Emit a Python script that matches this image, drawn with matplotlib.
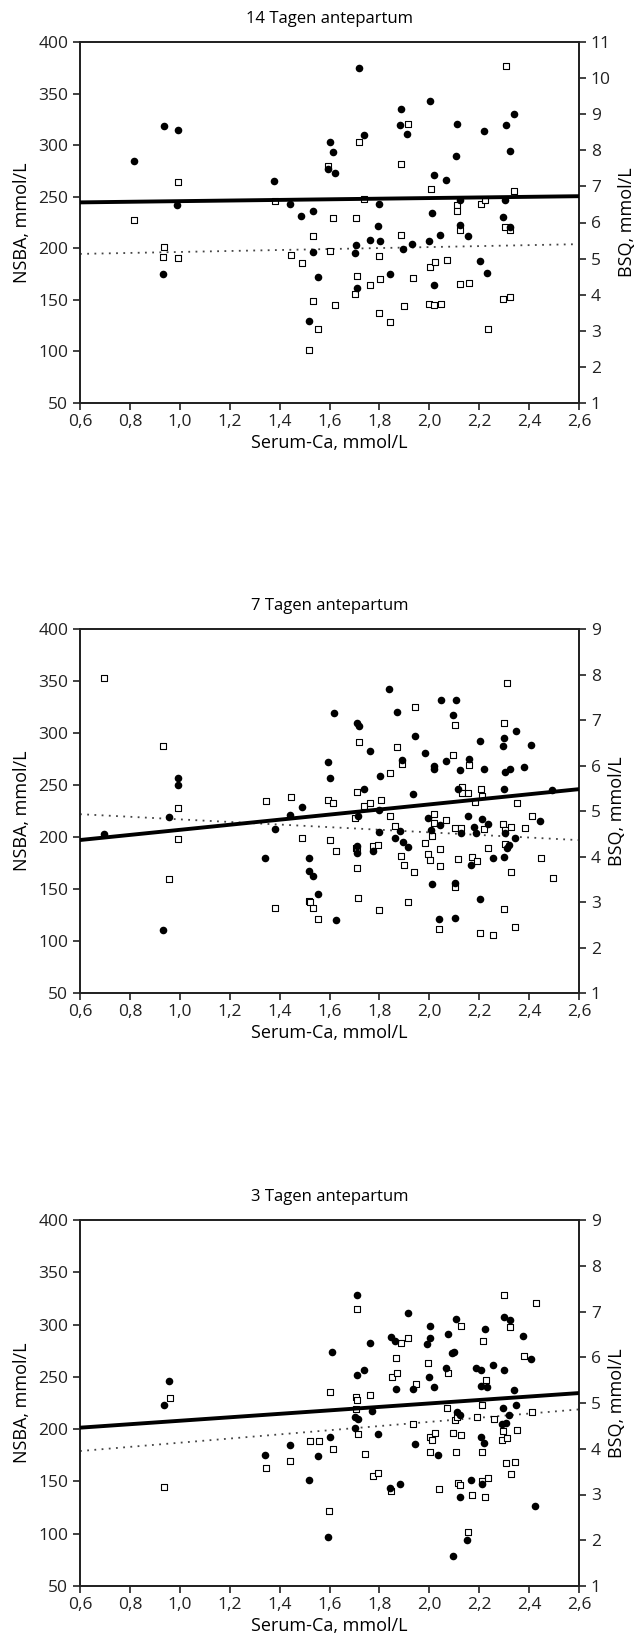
import matplotlib
matplotlib.use("Agg")
import matplotlib.pyplot as plt
from matplotlib.ticker import FixedLocator, FuncFormatter

plt.rcParams['font.family'] = ['Open Sans', 'DejaVu Sans']

# ---------------- Data ----------------
titles = ["14 Tagen antepartum", "7 Tagen antepartum", "3 Tagen antepartum"]
xlabel = "Serum-Ca, mmol/L"
ylabel_left = "NSBA, mmol/L"
ylabel_right = "BSQ, mmol/L"
x_ticks = [0.6, 0.8, 1.0, 1.2, 1.4, 1.6, 1.8, 2.0, 2.2, 2.4, 2.6]
left_ticks = [50, 100, 150, 200, 250, 300, 350, 400]
right_ticks_p14 = [1, 2, 3, 4, 5, 6, 7, 8, 9, 10, 11]
right_ticks_p7 = [1, 2, 3, 4, 5, 6, 7, 8, 9]
right_ticks_p3 = [1, 2, 3, 4, 5, 6, 7, 8, 9]

# Panel 1: 14 Tage
p14_ca_nsba = [0.817, 0.937, 0.992, 0.99, 0.933, 1.377, 1.443, 1.487, 1.532, 1.532, 1.553, 1.517,
               1.603, 1.613, 1.595, 1.623, 1.717, 1.738, 1.708, 1.702, 1.711, 1.762, 1.797, 1.793,
               1.802, 1.843, 1.888, 1.883, 1.912, 1.896, 1.932, 2.001, 2.017, 2.009, 1.998, 2.017,
               2.042, 2.068, 2.111, 2.108, 2.123, 2.123, 2.157, 2.221, 2.205, 2.233, 2.307, 2.339,
               2.323, 2.302, 2.296, 2.323]
p14_nsba = [285, 319, 315, 241.5, 175.4, 265, 243, 231.5, 236.4, 196, 172.5, 129.5,
            302.8, 293, 276.5, 272.7, 374.7, 309.6, 203, 195.2, 161.9, 207.9, 242.9, 221.8,
            206.9, 175.4, 334.9, 319.6, 311.2, 199.2, 204.6, 343, 270.7, 234, 206.9, 164.4,
            212.7, 266.2, 320.6, 289.8, 247, 222.8, 212, 314, 187.2, 175.8, 319.6, 330,
            294.7, 246.8, 230, 220.8]
p14_ca_bsq = [0.818, 0.938, 0.933, 0.993, 0.993, 1.38, 1.445, 1.488, 1.532, 1.532, 1.553, 1.519,
              1.594, 1.613, 1.603, 1.623, 1.718, 1.738, 1.708, 1.711, 1.702, 1.763, 1.797, 1.802,
              1.799, 1.844, 1.914, 1.888, 1.885, 1.933, 1.899, 2.008, 2.003, 2.021, 2.069, 2.0,
              2.019, 2.045, 2.11, 2.113, 2.124, 2.124, 2.16, 2.207, 2.225, 2.236, 2.309, 2.339,
              2.304, 2.325, 2.297, 2.325]
p14_bsq = [6.07, 5.33, 5.04, 7.12, 5.03, 6.59, 5.09, 4.89, 5.63, 3.82, 3.06, 2.48,
           7.56, 6.13, 5.22, 3.71, 8.22, 6.65, 6.13, 4.52, 4.03, 4.28, 5.06, 4.44,
           3.48, 3.24, 8.74, 7.61, 5.66, 4.46, 3.68, 6.92, 4.76, 4.90, 4.96, 3.74,
           3.71, 3.74, 6.49, 6.31, 5.79, 4.30, 4.32, 6.51, 6.63, 3.05, 10.33, 6.87,
           5.87, 5.79, 3.87, 3.93]
p14_trend_x = [0.6, 2.6]
p14_trend_nsba = [244.5, 250.5]
p14_trend_bsq = [5.13, 5.40]

# Panel 2: 7 Tage
p7_ca_nsba = [0.696, 0.931, 0.956, 0.992, 0.992, 1.343, 1.38, 1.442, 1.488, 1.517, 1.519, 1.532,
              1.553, 1.625, 1.617, 1.594, 1.602, 1.709, 1.718, 1.738, 1.715, 1.71, 1.71, 1.764,
              1.774, 1.803, 1.797, 1.8, 1.839, 1.869, 1.89, 1.883, 1.862, 1.896, 1.914, 1.944,
              1.935, 1.984, 1.993, 2.006, 2.017, 2.019, 2.043, 2.009, 2.038, 2.045, 2.068, 2.107,
              2.096, 2.114, 2.125, 2.127, 2.105, 2.102, 2.158, 2.154, 2.169, 2.18, 2.189, 2.205,
              2.221, 2.211, 2.234, 2.205, 2.256, 2.301, 2.295, 2.349, 2.409, 2.38, 2.322, 2.303,
              2.3, 2.305, 2.342, 2.319, 2.311, 2.3, 2.445, 2.491]
p7_nsba = [202.5, 110.8, 219.4, 257.1, 250.4, 179.5, 207.3, 221, 229, 179.5, 167.6, 162.9,
           145.6, 120.3, 319.5, 272.2, 257.1, 309.6, 306.4, 246, 220.1, 191.6, 184.3, 282.4,
           186.2, 258.7, 225.8, 205, 342.5, 319.8, 274.4, 205.7, 199, 194.8, 190.3, 297.1,
           241.2, 280.5, 218.5, 206.6, 268, 265.8, 211.4, 154.5, 121, 331.6, 272.8, 331.6,
           316.9, 246.6, 264.2, 204.1, 155.8, 122.3, 275, 220.1, 173.1, 209.2, 204.1, 292.6,
           265.1, 216.9, 212.1, 140.5, 179.5, 295.2, 287.2, 301.9, 288.8, 267.7, 265.1, 262.6,
           246.6, 203.4, 198.7, 192.3, 189.1, 181.1, 215.3, 245]
p7_ca_bsq = [0.696, 0.933, 0.958, 0.992, 0.992, 1.345, 1.38, 1.444, 1.488, 1.519, 1.521, 1.534,
             1.555, 1.594, 1.614, 1.604, 1.625, 1.709, 1.704, 1.705, 1.709, 1.709, 1.715, 1.718,
             1.74, 1.764, 1.805, 1.774, 1.795, 1.798, 1.841, 1.844, 1.87, 1.89, 1.864, 1.885,
             1.9, 1.914, 1.937, 1.944, 1.984, 1.996, 2.004, 2.011, 2.019, 2.02, 2.068, 2.043,
             2.042, 2.04, 2.096, 2.105, 2.102, 2.128, 2.117, 2.104, 2.13, 2.13, 2.156, 2.161,
             2.184, 2.21, 2.207, 2.221, 2.236, 2.171, 2.192, 2.205, 2.256, 2.301, 2.311, 2.296,
             2.303, 2.327, 2.305, 2.326, 2.301, 2.342, 2.35, 2.383, 2.412, 2.446, 2.494]
p7_bsq = [7.93, 6.43, 3.51, 5.06, 4.38, 5.23, 2.86, 5.30, 4.41, 3.02, 2.99, 2.86,
          2.62, 5.24, 5.17, 4.36, 4.11, 5.41, 4.84, 4.18, 4.14, 3.74, 3.09, 6.52,
          5.11, 5.18, 5.25, 4.22, 4.25, 2.83, 5.84, 4.89, 6.41, 6.03, 4.67, 4.01,
          3.81, 3.01, 3.65, 7.28, 4.30, 4.05, 3.92, 4.46, 4.93, 4.73, 4.81, 4.17,
          3.79, 2.41, 6.24, 6.90, 4.62, 4.62, 3.95, 3.32, 5.53, 5.40, 5.40, 6.02,
          5.19, 5.34, 5.48, 4.60, 4.19, 4.00, 3.90, 2.32, 2.28, 6.94, 7.82, 4.71,
          4.58, 4.65, 4.28, 3.66, 2.84, 2.45, 5.17, 4.63, 4.89, 3.96, 3.53]
p7_trend_x = [0.6, 2.6]
p7_trend_nsba = [197.1, 246.0]
p7_trend_bsq = [4.93, 4.36]

# Panel 3: 3 Tage
p3_ca_nsba = [0.936, 0.957, 1.342, 1.443, 1.518, 1.552, 1.593, 1.602, 1.612, 1.71, 1.71, 1.703,
              1.713, 1.703, 1.737, 1.762, 1.771, 1.794, 1.848, 1.861, 1.867, 1.843, 1.884, 1.913,
              1.934, 1.942, 2.002, 2.002, 1.992, 1.997, 2.017, 2.036, 2.074, 2.067, 2.101, 2.091,
              2.109, 2.111, 2.122, 2.122, 2.096, 2.166, 2.152, 2.189, 2.207, 2.207, 2.233, 2.223,
              2.254, 2.207, 2.22, 2.212, 2.299, 2.322, 2.301, 2.294, 2.319, 2.307, 2.29, 2.338,
              2.348, 2.377, 2.408, 2.425]
p3_nsba = [222.8, 246, 175, 185.2, 151.2, 174.1, 96.8, 192.5, 273.7, 328.7, 251.4, 211.6,
           210, 201.1, 256.8, 282.6, 217.4, 195.1, 288, 283.9, 238.7, 143.8, 147.4, 311.2,
           238.7, 186.2, 298.5, 287, 281.6, 250.1, 240.1, 175, 291.2, 258.4, 274, 272.7,
           304.9, 216.4, 213.2, 135, 78.6, 151.2, 93.9, 258.4, 256.5, 240.9, 240, 295.3,
           260.9, 192.9, 187.2, 147.1, 307.1, 304.5, 256.5, 220.2, 213.9, 206.2, 204.6, 237.1,
           222.8, 289.3, 267.3, 126.7]
p3_ca_bsq = [0.959, 0.938, 1.344, 1.443, 1.521, 1.557, 1.604, 1.614, 1.596, 1.71, 1.706, 1.71,
             1.706, 1.715, 1.741, 1.763, 1.775, 1.796, 1.849, 1.87, 1.866, 1.885, 1.914, 1.846,
             1.947, 1.934, 1.996, 2.072, 2.075, 2.004, 2.009, 2.022, 2.004, 2.039, 2.096, 2.103,
             2.113, 2.126, 2.106, 2.126, 2.116, 2.124, 2.171, 2.155, 2.21, 2.236, 2.222, 2.215,
             2.226, 2.212, 2.192, 2.259, 2.212, 2.301, 2.325, 2.295, 2.291, 2.311, 2.307, 2.327,
             2.343, 2.351, 2.381, 2.412, 2.428]
p3_bsq = [5.11, 3.17, 3.57, 3.74, 4.18, 4.18, 5.23, 3.99, 2.64, 7.06, 5.13, 5.07,
          4.86, 4.32, 3.89, 5.17, 3.40, 3.47, 5.57, 5.65, 5.98, 6.31, 6.42, 3.07,
          5.41, 4.54, 5.87, 4.88, 5.65, 4.26, 4.19, 4.34, 3.93, 3.11, 4.35, 4.63,
          4.69, 4.29, 3.93, 6.68, 3.25, 3.20, 3.00, 2.19, 3.29, 3.36, 2.95, 6.35,
          5.50, 4.96, 4.69, 4.64, 3.93, 7.35, 6.67, 4.38, 4.20, 4.24, 3.68, 3.44,
          3.71, 4.40, 6.02, 4.80, 7.18]
p3_trend_x = [0.6, 2.6]
p3_trend_nsba = [201.4, 234.5]
p3_trend_bsq = [3.95, 4.86]

panels = [
    dict(title=titles[0], ca_n=p14_ca_nsba, n=p14_nsba, ca_b=p14_ca_bsq, b=p14_bsq,
         tx=p14_trend_x, tn=p14_trend_nsba, tb=p14_trend_bsq, rticks=right_ticks_p14),
    dict(title=titles[1], ca_n=p7_ca_nsba, n=p7_nsba, ca_b=p7_ca_bsq, b=p7_bsq,
         tx=p7_trend_x, tn=p7_trend_nsba, tb=p7_trend_bsq, rticks=right_ticks_p7),
    dict(title=titles[2], ca_n=p3_ca_nsba, n=p3_nsba, ca_b=p3_ca_bsq, b=p3_bsq,
         tx=p3_trend_x, tn=p3_trend_nsba, tb=p3_trend_bsq, rticks=right_ticks_p3),
]

# ---------------- Figure ----------------
W, H = 635, 1646
fig = plt.figure(figsize=(W / 100, H / 100), dpi=100)
fig.patch.set_facecolor('white')

boxes = [(42, 403), (629, 993), (1220, 1586)]  # top, bottom in pixels
left_px, right_px = 80, 579

comma = FuncFormatter(lambda v, p: f"{v:.1f}".replace('.', ','))
FS_TICK = 12.5
FS_LAB = 13
FS_TITLE = 12

for pnl, (top, bot) in zip(panels, boxes):
    ax = fig.add_axes([left_px / W, 1 - bot / H, (right_px - left_px) / W, (bot - top) / H])
    ax2 = ax.twinx()
    ax.set_zorder(ax2.get_zorder() + 1)
    ax.patch.set_visible(False)

    ax.set_xlim(0.6, 2.6)
    ax.set_ylim(50, 400)
    ax2.set_ylim(pnl['rticks'][0], pnl['rticks'][-1])

    ax.xaxis.set_major_locator(FixedLocator(x_ticks))
    ax.xaxis.set_major_formatter(comma)
    ax.yaxis.set_major_locator(FixedLocator(left_ticks))
    ax2.yaxis.set_major_locator(FixedLocator(pnl['rticks']))

    # BSQ (open squares, right axis)
    ax2.scatter(pnl['ca_b'], pnl['b'], marker='s', s=24, facecolors='white',
                edgecolors='black', linewidths=0.8, zorder=3)
    ax2.plot(pnl['tx'], pnl['tb'], color='#444444', lw=1.3, ls=(0, (1, 3)), zorder=2)
    # NSBA (filled circles, left axis)
    ax.scatter(pnl['ca_n'], pnl['n'], marker='o', s=30, color='black', zorder=3, linewidths=0)
    ax.plot(pnl['tx'], pnl['tn'], color='black', lw=2.8, zorder=4, solid_capstyle='butt')

    for a in (ax, ax2):
        for sp in a.spines.values():
            sp.set_linewidth(1.3)
            sp.set_color('#222222')
        a.tick_params(direction='out', length=5, width=1.2, labelsize=FS_TICK, colors='#222222')
    ax.tick_params(axis='x', pad=3)

    ax.set_title(pnl['title'], fontsize=FS_TITLE, pad=14)
    ax.set_xlabel(xlabel, fontsize=FS_LAB, labelpad=3)
    ax.set_ylabel(ylabel_left, fontsize=FS_LAB, labelpad=5)
    ax2.set_ylabel(ylabel_right, fontsize=FS_LAB, labelpad=5)

fig.savefig('out.png', dpi=100, facecolor='white')
